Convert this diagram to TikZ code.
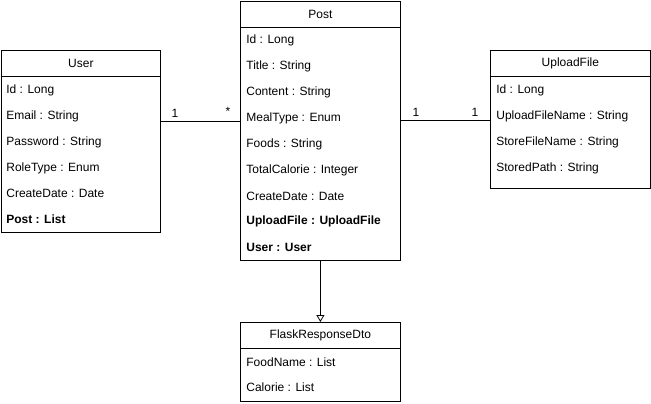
\documentclass[tikz,border=0pt]{standalone}
\usepackage{fontspec}
\setmainfont{Liberation Sans}
\usetikzlibrary{arrows.meta}

\newcommand{\hdr}[1]{#1}
\newcommand{\assoc}[1]{\textbf{#1}}

\begin{document}
\begin{tikzpicture}[x=1pt, y=-1pt, line width = 0.8pt,
  classbox/.style={draw, rectangle, anchor=north west, inner sep=0pt},
  attr/.style={anchor=west, inner sep=0pt, font=\fontsize{12}{14}\selectfont},
  mult/.style={inner sep=0pt, font=\fontsize{12}{14}\selectfont}]
 \useasboundingbox (0,0) rectangle (651,404);

 % class boxes
 \node[classbox, minimum width=159pt, minimum height=182pt] (user) at (1,50) {};
 \node[classbox, minimum width=160pt, minimum height=259pt] (post) at (240,1) {};
 \node[classbox, minimum width=160pt, minimum height=138pt] (upload) at (490,50) {};
 \node[classbox, minimum width=160pt, minimum height=79pt] (flask) at (240,322) {};

 % header lines
 \draw ([yshift=-26pt]user.north west) -- ([yshift=-26pt]user.north east);
 \draw ([yshift=-26pt]post.north west) -- ([yshift=-26pt]post.north east);
 \draw ([yshift=-26pt]upload.north west) -- ([yshift=-26pt]upload.north east);
 \draw ([yshift=-26pt]flask.north west) -- ([yshift=-26pt]flask.north east);

 % class names
 \node[mult] (userhdr) at ([yshift=-13pt]user.north) {\hdr{User}};
 \node[mult] (posthdr) at ([yshift=-13pt]post.north) {\hdr{Post}};
 \node[mult] (uploadhdr) at ([yshift=-13pt]upload.north) {\hdr{UploadFile}};
 \node[mult] (flaskhdr) at ([yshift=-13pt]flask.north) {\hdr{FlaskResponseDto}};

 % User fields
 \node[attr] (uid) at (6,90) {Id : Long};
 \node[attr] (uemail) at (6,116) {Email : String};
 \node[attr] (upass) at (6,142) {Password : String};
 \node[attr] (urole) at (6,168) {RoleType : Enum};
 \node[attr] (udate) at (6,193) {CreateDate : Date};
 \node[attr] (upost) at (6,219) {\assoc{Post : List}};

 % Post fields
 \node[attr] (pid) at (246,40) {Id : Long};
 \node[attr] (ptitle) at (246,66) {Title : String};
 \node[attr] (pcontent) at (246,92) {Content : String};
 \node[attr] (pmeal) at (246,118) {MealType : Enum};
 \node[attr] (pfoods) at (246,144) {Foods : String};
 \node[attr] (pcal) at (246,170) {TotalCalorie : Integer};
 \node[attr] (pdate) at (246,196) {CreateDate : Date};
 \node[attr] (pfile) at (246,221) {\assoc{UploadFile : UploadFile}};
 \node[attr] (puser) at (246,247) {\assoc{User : User}};

 % UploadFile fields
 \node[attr] (fid) at (496,90) {Id : Long};
 \node[attr] (fupname) at (496,116) {UploadFileName : String};
 \node[attr] (fstname) at (496,142) {StoreFileName : String};
 \node[attr] (fpath) at (496,168) {StoredPath : String};

 % FlaskResponseDto fields
 \node[attr] (dfood) at (246,362) {FoodName : List};
 \node[attr] (dcal) at (246,387) {Calorie : List};

 % associations
 \draw ([yshift=-71pt]user.north east) -- ([yshift=-120pt]post.north west);
 \node[mult] (m1) at (175,113) {1};
 \node[mult] (m2) at (228,111) {*};

 \draw ([yshift=-119pt]post.north east) -- ([yshift=-70pt]upload.north west);
 \node[mult] (m3) at (416,112) {1};
 \node[mult] (m4) at (475,112) {1};

 % dependency
 \draw[-{Triangle[open, length=7pt, width=8pt]}] (post.south) -- (flask.north);
\end{tikzpicture}
\end{document}
